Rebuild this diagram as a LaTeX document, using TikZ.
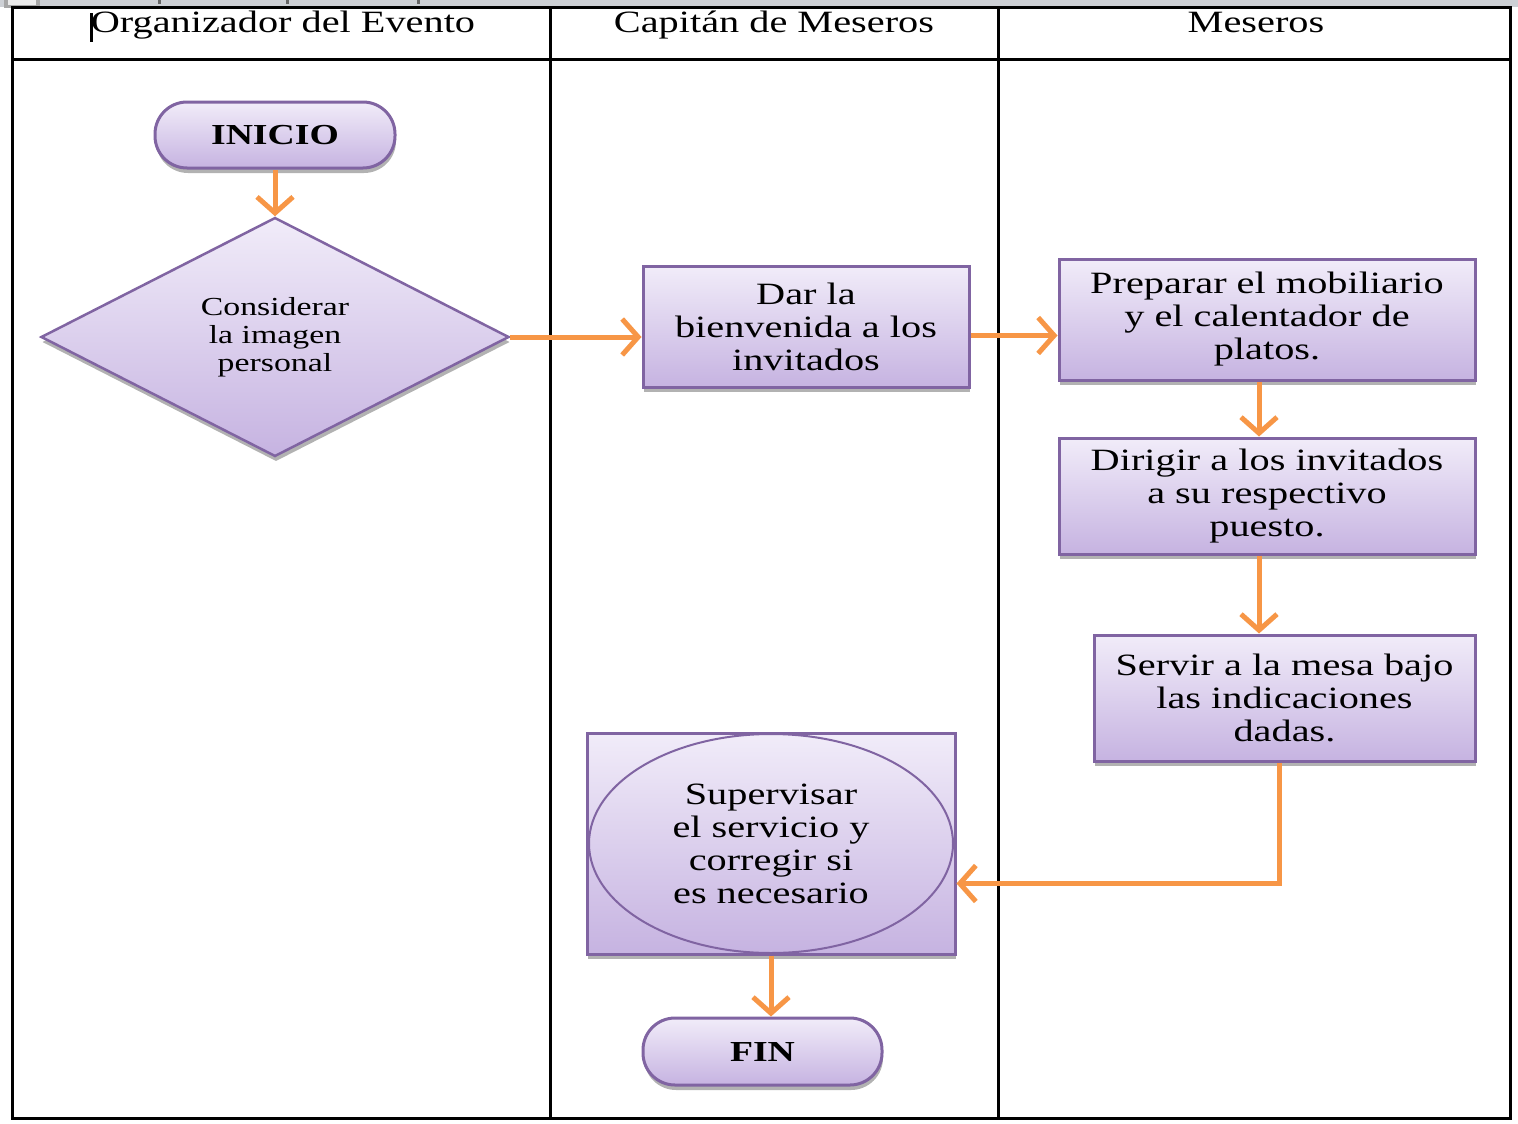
\documentclass[tikz,border=0pt]{standalone}
\usepackage{fontspec}
\setmainfont{Liberation Serif}[FakeStretch=1.3]
\usetikzlibrary{shapes.geometric,shadows,arrows.meta}
\definecolor{boxtop}{HTML}{F1ECF9}
\definecolor{boxbot}{HTML}{C6B3E1}
\definecolor{boxline}{HTML}{8064A2}
\definecolor{flow}{HTML}{F79646}
\definecolor{ruler}{HTML}{CDD0D5}

\begin{document}
\begin{tikzpicture}[x=1pt,y=-1pt,
  shapefill/.style={top color=boxtop,bottom color=boxbot,draw=boxline,line width=3pt},
  shadowed/.style={drop shadow={shadow xshift=1pt,shadow yshift=-5pt,fill=black,opacity=0.3}},
  process/.style={shapefill,shadowed,rectangle,inner sep=0pt,align=center,
    font=\fontsize{31}{33}\selectfont},
  terminal/.style={shapefill,shadowed,rectangle,rounded corners=32pt,inner sep=0pt,
    font=\bfseries\fontsize{29}{33}\selectfont},
  decision/.style={shapefill,line width=2.5pt,shadowed,diamond,inner sep=0pt,align=center,
    font=\fontsize{26}{28}\selectfont},
  oval/.style={shapefill,ellipse,line width=2pt,inner sep=0pt,align=center,
    font=\fontsize{31}{33}\selectfont},
  flowarrow/.style={draw=flow,line width=5pt,-{Straight Barb[length=16pt,width=36pt]}},
  lane/.style={line width=3pt},
  lanehead/.style={anchor=base,font=\fontsize{31}{33}\selectfont}
]
\useasboundingbox (0,0) rectangle (1518,1124);
\fill[white] (0,0) rectangle (1518,1124);

% ruler strip along the top edge
\fill[ruler] (0,0) rectangle (1518,7);
\fill[black!35] (4,0) rectangle (40,8);
\fill[black!8] (8,0) rectangle (36,5);
\foreach \t in {158,286,417} \fill[black!60] (\t,0) rectangle (\t+3,4);

% swimlane table
\draw[lane] (12,8) rectangle (1510,1118);
\draw[lane] (12,60) -- (1510,60);
\draw[lane] (550,8) -- (550,1118);
\draw[lane] (998,8) -- (998,1118);

\node[lanehead] (hOrg) at (283,33) {Organizador del Evento};
\node[lanehead] (hCap) at (774,33) {Capitán de Meseros};
\node[lanehead] (hMes) at (1256,33) {Meseros};
\fill[black] (90,13) rectangle (93,42);

% flow steps
\node[terminal,minimum width=240pt,minimum height=66pt] (inicio) at (275,135) {INICIO};
\node[decision,minimum width=468pt,minimum height=239pt] (consider) at (275,337)
  {Considerar\\la imagen\\personal};
\node[process,minimum width=326pt,minimum height=121pt] (dar) at (806,326.5)
  {Dar la\\bienvenida a los\\invitados};
\node[process,minimum width=416pt,minimum height=121pt] (prep) at (1267,319.5)
  {Preparar el mobiliario\\y el calentador de\\platos.};
\node[process,minimum width=416pt,minimum height=116pt] (dir) at (1267,496)
  {Dirigir a los invitados\\a su respectivo\\puesto.};
\node[process,minimum width=381pt,minimum height=126pt] (servir) at (1284.5,698)
  {Servir a la mesa bajo\\las indicaciones\\dadas.};
\node[process,minimum width=368pt,minimum height=221pt] (sup) at (771,843.5) {};
\node[oval,minimum width=364pt,minimum height=219pt] (supoval) at (sup.center)
  {Supervisar\\el servicio y\\corregir si\\es necesario};
\node[terminal,minimum width=239pt,minimum height=67pt] (fin) at (762.5,1051.5) {FIN};

% connectors
\draw[flowarrow] (inicio.south) -- (consider.north);
\draw[flowarrow] (consider.east) -- (consider.east -| dar.west);
\draw[flowarrow] ([yshift=-9pt]dar.east) -- ([yshift=-9pt]dar.east -| prep.west);
\draw[flowarrow] ([xshift=-8pt]prep.south) -- ([xshift=-8pt]prep.south |- dir.north);
\draw[flowarrow] ([xshift=-8pt]dir.south) -- ([xshift=-8pt]dir.south |- servir.north);
\draw[flowarrow] ([xshift=-5pt]servir.south) |- ([yshift=-40pt]sup.east);
\draw[flowarrow] (sup.south) -- (sup.south |- fin.north);
\end{tikzpicture}
\end{document}
